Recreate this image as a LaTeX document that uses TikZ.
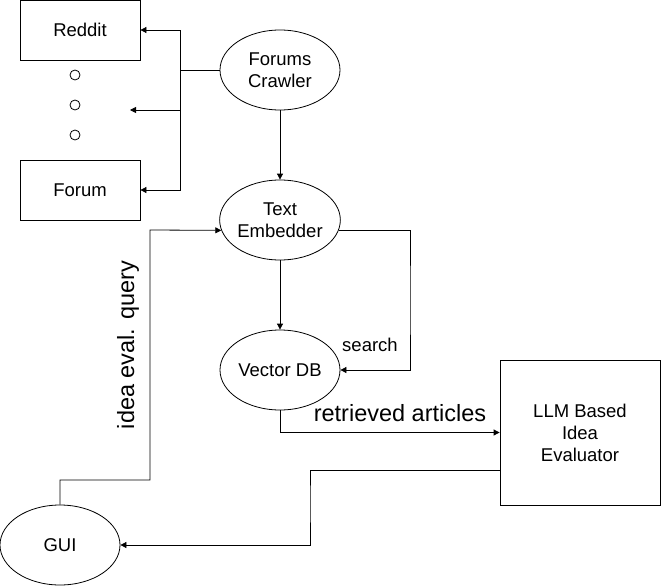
\documentclass[tikz,border=0pt]{standalone}
\usepackage{fontspec}
\setmainfont{Liberation Sans}
\usetikzlibrary{arrows.meta,shapes.geometric}

\begin{document}
\begin{tikzpicture}[x=1pt,y=-1pt,line width=0.8pt,
  every node/.style={font=\fontsize{18.5}{22}\selectfont},
  site/.style={draw,minimum width=120pt,minimum height=60pt},
  stage/.style={draw,ellipse,minimum width=120pt,minimum height=80pt,inner sep=0pt,align=center},
  dot/.style={draw,circle,minimum size=10pt,inner sep=0pt},
  big/.style={font=\fontsize{23.5}{27}\selectfont},
  >={Triangle[length=6pt,width=6pt]}]
\useasboundingbox (0,0) rectangle (661,586);

\node[site] (reddit) at (80,30) {Reddit};
\node[site] (forum) at (80,190) {Forum};
\foreach \y in {75,105,135}
  \node[dot] (dot\y) at (75,\y) {};
\node[stage] (crawler) at (280,70) {Forums\\Crawler};
\node[stage] (embedder) at (280,220) {Text\\Embedder};
\node[stage] (vdb) at (280,370) {Vector DB};
\node[stage] (gui) at (60,545) {GUI};
\node[draw,minimum width=160pt,minimum height=145pt,align=center] (llm) at (580,432.5) {LLM Based\\Idea\\Evaluator};

\coordinate (split) at (180,70);
\coordinate (more) at (130,110);

\draw[->] (crawler.west) -- (split) |- (reddit.east);
\draw[->] (split) |- (forum.east);
\draw[->] (split |- more) -- (more);
\draw[->] (crawler) -- (embedder);
\draw[->] (embedder) -- (vdb);
\draw[->] (embedder.350) -| (410,300) |- (vdb.east);
\draw[->] (vdb.south) |- (llm.west);
\draw[->] ([yshift=-37.5pt]llm.west) -| (310,500) |- (gui.east);
\draw[->] (gui.north) |- (150,480) -- (150,230) -- (embedder.190);

\node at (370,345) {search};
\node[big] at (400,413) {retrieved articles};
\node[big,rotate=90] at (128,345) {idea eval. query};
\end{tikzpicture}
\end{document}
